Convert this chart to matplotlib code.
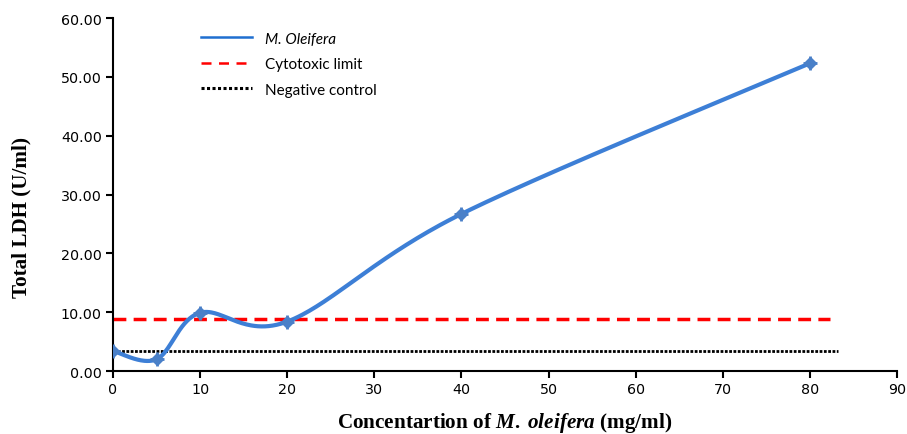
import numpy as np
import matplotlib
matplotlib.use("Agg")
import matplotlib.pyplot as plt
from matplotlib.lines import Line2D

plt.rcParams["mathtext.fontset"] = "custom"
plt.rcParams["mathtext.it"] = "Liberation Serif:italic:bold"
plt.rcParams["mathtext.bf"] = "Liberation Serif:bold"
plt.rcParams["mathtext.rm"] = "Liberation Serif:bold"

# ---- data ----
conc = [0, 5, 10, 20, 40, 80]
ldh = [3.4, 2.0, 9.9, 8.4, 26.7, 52.3]
cytotoxic_limit = 8.8
negative_control = 3.4
limit_xmax = 82.3
control_xmax = 83.2
xticks = [0, 10, 20, 30, 40, 50, 60, 70, 80, 90]
yticks = [0, 10, 20, 30, 40, 50, 60]


def smooth(xs, ys, n=60):
    """Excel-like smoothed line (cubic Bezier through points)."""
    P = np.column_stack([xs, ys]).astype(float)
    out = []
    m = len(P)
    for i in range(m - 1):
        p0 = P[i - 1] if i > 0 else P[i]
        p1 = P[i]
        p2 = P[i + 1]
        p3 = P[i + 2] if i + 2 < m else P[i + 1]
        c1 = p1 + (p2 - p0) / 6.0
        c2 = p2 - (p3 - p1) / 6.0
        t = np.linspace(0, 1, n)[:, None]
        seg = ((1 - t) ** 3) * p1 + 3 * ((1 - t) ** 2) * t * c1 + 3 * (1 - t) * t ** 2 * c2 + t ** 3 * p2
        out.append(seg if i == 0 else seg[1:])
    S = np.vstack(out)
    return S[:, 0], S[:, 1]


fig = plt.figure(figsize=(9.07, 4.35), dpi=100)
ax = fig.add_axes([0.1246, 0.1448, 0.989 - 0.1246, 0.9563 - 0.1448])

sx, sy = smooth(conc, ldh)
blue = "#3d7fd6"
ax.plot(sx, sy, color=blue, lw=3, solid_capstyle="round", zorder=3)
ax.plot(conc, ldh, linestyle="none", marker="D", ms=6.5, color="#4a80c8", zorder=4)
ax.plot(conc, ldh, linestyle="none", marker="+", ms=10, mew=2, color="#4a80c8", zorder=4)

ax.plot([0, limit_xmax], [cytotoxic_limit] * 2, color="#ff0000", lw=2.5,
        linestyle=(0, (3.7, 2.1)), zorder=2)
ax.plot([0, control_xmax], [negative_control] * 2, color="black", lw=2,
        linestyle=(0, (1, 0.55)), zorder=2)

ax.set_xlim(0, 90)
ax.set_ylim(0, 60)
ax.set_xticks(xticks)
ax.set_yticks(yticks)
ax.set_yticklabels([f"{v:.2f}" for v in yticks])
ax.set_xticklabels([str(v) for v in xticks])
for s in ("top", "right"):
    ax.spines[s].set_visible(False)
for s in ("left", "bottom"):
    ax.spines[s].set_linewidth(1.5)
ax.tick_params(direction="out", length=5, width=1.5, labelsize=10.3, pad=3)
for lab in ax.get_xticklabels() + ax.get_yticklabels():
    lab.set_family("DejaVu Sans")

ax.set_xlabel(r"Concentartion of $\mathit{M.\;oleifera}$ (mg/ml)",
              fontsize=15.2, fontweight="bold", family="Liberation Serif", va="center")
ax.xaxis.set_label_coords(0.5, -0.144)
ax.set_ylabel("Total LDH (U/ml)", fontsize=15.2, fontweight="bold",
              family="Liberation Serif", va="center")
ax.yaxis.set_label_coords(-0.117, 0.439)

handles = [
    Line2D([], [], color="#1f6fd0", lw=1.8),
    Line2D([], [], color="#ff0000", lw=1.8, linestyle=(0, (4, 3))),
    Line2D([], [], color="black", lw=2.2, linestyle=(0, (1, 0.8))),
]
labels = ["M. Oleifera", "Cytotoxic limit", "Negative control"]
leg = ax.legend(handles, labels, loc="upper left", bbox_to_anchor=(0.095, 1.0),
                frameon=False, prop={"family": "Lato", "size": 11},
                handlelength=3.3, labelspacing=0.75, handletextpad=0.85)
leg.get_texts()[0].set_style("italic")

fig.savefig("out.png", dpi=100)
